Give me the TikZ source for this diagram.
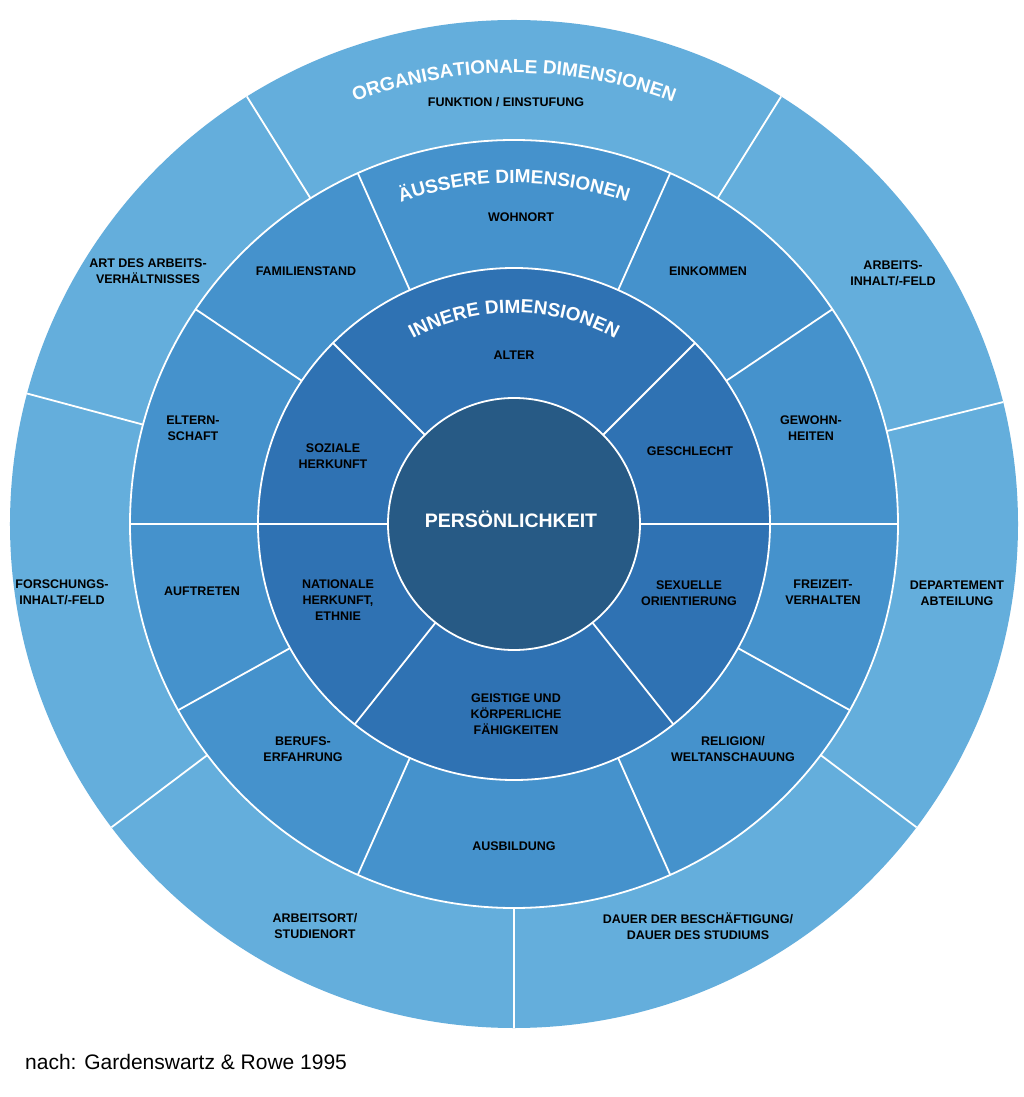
\documentclass[tikz,border=0pt]{standalone}
\usepackage{fontspec}
\setmainfont{Liberation Sans}
\usetikzlibrary{decorations.text}
\definecolor{cOut}{HTML}{64AEDC}
\definecolor{cMid}{HTML}{4592CC}
\definecolor{cIn}{HTML}{2F72B3}
\definecolor{cCore}{HTML}{275A85}
\tikzset{
  lab/.style={align=center,font=\fontsize{12.5}{16}\selectfont\bfseries,text=black,inner sep=0pt},
  sep/.style={draw=white,line width=1.8pt},
}
\begin{document}
\begin{tikzpicture}[x=1pt,y=1pt]
\useasboundingbox[fill=white] (-514,-573) rectangle (510,524);
\fill[cOut] (0,0) circle (504);
\fill[cMid] (0,0) circle (384);
\fill[cIn] (0,0) circle (256);
\fill[cCore] (0,0) circle (126);
\draw[sep] (0,0) circle (384) (0,0) circle (256) (0,0) circle (126);
\foreach \a in {58,122,165,217,270,323,14} \draw[sep] (\a:384) -- (\a:504);
\foreach \a in {66,114,146,180,209,246,294,331,0,34} \draw[sep] (\a:256) -- (\a:384);
\foreach \a in {0,45,135,180,231.5,308.5} \draw[sep] (\a:126) -- (\a:256);
% curved titles
\path[decorate,decoration={text along path,text align=center,
  text={|\color{white}\bfseries\fontsize{19}{19}\selectfont|ORGANISATIONALE DIMENSIONEN}}]
  (180:451) arc (180:0:451);
\path[decorate,decoration={text along path,text align=center,
  text={|\color{white}\bfseries\fontsize{19}{19}\selectfont|ÄUSSERE DIMENSIONEN}}]
  (180:341) arc (180:0:341);
\path[decorate,decoration={text along path,text align=center,
  text={|\color{white}\bfseries\fontsize{19}{19}\selectfont|INNERE DIMENSIONEN}}]
  (180:211) arc (180:0:211);
% labels
\node[lab] (funk) at (-8,422) {FUNKTION / EINSTUFUNG};
\node[lab] (art) at (-366,253) {ART DES ARBEITS-\\VERHÄLTNISSES};
\node[lab] (arb) at (379,251) {ARBEITS-\\INHALT/-FELD};
\node[lab] (for) at (-452,-68) {FORSCHUNGS-\\INHALT/-FELD};
\node[lab] (dep) at (443,-69) {DEPARTEMENT\\ABTEILUNG};
\node[lab] (ort) at (-199,-402) {ARBEITSORT/\\STUDIENORT};
\node[lab] (dau) at (184,-402) {DAUER DER BESCHÄFTIGUNG/\\DAUER DES STUDIUMS};
\node[lab] (woh) at (7,307) {WOHNORT};
\node[lab] (fam) at (-208,253) {FAMILIENSTAND};
\node[lab] (ein) at (194,253) {EINKOMMEN};
\node[lab] (elt) at (-321,96) {ELTERN-\\SCHAFT};
\node[lab] (gew) at (297,96) {GEWOHN-\\HEITEN};
\node[lab] (auf) at (-312,-67) {AUFTRETEN};
\node[lab] (fre) at (309,-68) {FREIZEIT-\\VERHALTEN};
\node[lab] (ber) at (-211,-225) {BERUFS-\\ERFAHRUNG};
\node[lab] (rel) at (219,-225) {RELIGION/\\WELTANSCHAUUNG};
\node[lab] (aus) at (0,-322) {AUSBILDUNG};
\node[lab] (alt) at (0,169) {ALTER};
\node[lab] (soz) at (-181,68) {SOZIALE\\HERKUNFT};
\node[lab] (ges) at (176,73) {GESCHLECHT};
\node[lab] (nat) at (-176,-76) {NATIONALE\\HERKUNFT,\\ETHNIE};
\node[lab] (sex) at (175,-69) {SEXUELLE\\ORIENTIERUNG};
\node[lab] (gei) at (2,-190) {GEISTIGE UND\\KÖRPERLICHE\\FÄHIGKEITEN};
\node[font=\fontsize{19.5}{19.5}\selectfont\bfseries,text=white,inner sep=0pt] (per) at (-3,5) {PERSÖNLICHKEIT};
\node[anchor=west,font=\fontsize{21}{21}\selectfont,inner sep=0pt] (src) at (-489,-538) {nach: Gardenswartz \& Rowe 1995};
\end{tikzpicture}
\end{document}
